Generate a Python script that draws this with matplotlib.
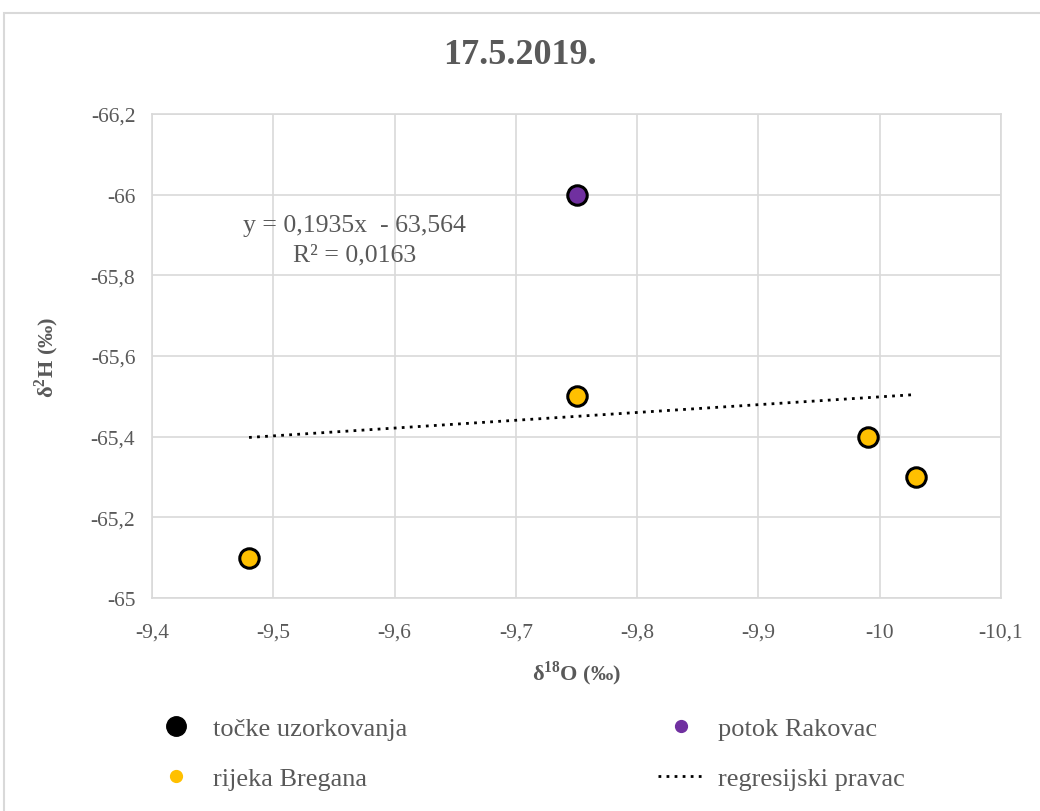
import numpy as np
from matplotlib import pyplot as plt
from matplotlib.lines import Line2D
from matplotlib.patches import Rectangle
from matplotlib.ticker import FuncFormatter, MultipleLocator

# Data
d18O_bregana = [-9.48, -9.75, -9.99, -10.03]
d2H_bregana = [-65.1, -65.5, -65.4, -65.3]
d18O_rakovac = [-9.75]
d2H_rakovac = [-66.0]
eq_text = "y = 0,1935x  - 63,564\nR² = 0,0163"

title = "17.5.2019."
gray = "#595959"
grid_c = "#d9d9d9"

plt.rcParams['font.family'] = ['Liberation Serif', 'DejaVu Serif']
plt.rcParams['mathtext.fontset'] = 'custom'
plt.rcParams['mathtext.rm'] = 'Liberation Serif'
plt.rcParams['mathtext.bf'] = 'Liberation Serif:bold'

fig = plt.figure(figsize=(10.4, 8.12), dpi=100)
fig.patches.append(Rectangle((4/1040, -0.05), 1.1, 0.05 + 1 - 14/812,
                             transform=fig.transFigure, fill=False,
                             edgecolor=grid_c, lw=1.5))
ax = fig.add_axes([152/1040, 1 - 599/812, 849/1040, 484/812])

# regression line over all points
all_x = np.array(d18O_bregana + d18O_rakovac)
all_y = np.array(d2H_bregana + d2H_rakovac)
k, n = np.polyfit(all_x, all_y, 1)
xs = np.array([all_x.max(), all_x.min()])
dots = (0, (1, 1.9))
ax.plot(xs, k*xs + n, color='black', lw=2, linestyle=dots, zorder=3)

ax.plot(d18O_bregana, d2H_bregana, 'o', ms=14, mfc='#FFC000', mec='black', mew=2.2, zorder=4)
ax.plot(d18O_rakovac, d2H_rakovac, 'o', ms=14, mfc='#7030A0', mec='black', mew=2.2, zorder=4)

ax.set_xlim(-9.4, -10.1)
ax.set_ylim(-65, -66.2)
ax.xaxis.set_major_locator(MultipleLocator(0.1))
ax.yaxis.set_major_locator(MultipleLocator(0.2))
fmt = FuncFormatter(lambda v, p: ('%g' % round(v, 2)).replace('.', ','))
ax.xaxis.set_major_formatter(fmt)
ax.yaxis.set_major_formatter(fmt)
ax.tick_params(length=0, labelsize=15.5, labelcolor=gray)
ax.tick_params(axis='y', pad=12)
ax.tick_params(axis='x', pad=18)
ax.grid(True, color=grid_c, lw=1.2)
ax.set_axisbelow(True)
for s in ax.spines.values():
    s.set_color(grid_c)
    s.set_linewidth(1.2)

ax.text(0.239, 0.74, eq_text, transform=ax.transAxes, ha='center', va='center',
        multialignment='center', fontsize=18.5, color=gray, linespacing=1.4)

ax.set_xlabel("δ$^{\\mathbf{18}}$O (‰)", fontsize=16, fontweight='bold', color=gray, labelpad=12)
ax.set_ylabel("δ$^{\\mathbf{2}}$H (‰)", fontsize=16, fontweight='bold', color=gray, labelpad=21)
fig.text(0.5, 1 - 55/812, title, ha='center', va='center', fontsize=26,
         fontweight='bold', color=gray)

handles = [
    Line2D([], [], marker='o', ls='', color='black', ms=14),
    Line2D([], [], marker='o', ls='', color='#FFC000', ms=8.5),
    Line2D([], [], marker='o', ls='', color='#7030A0', ms=8.5),
    Line2D([], [], color='black', lw=2, ls=dots),
]
labels = ["točke uzorkovanja", "rijeka Bregana", "potok Rakovac", "regresijski pravac"]
fig.legend(handles, labels, ncol=2, loc='upper left',
           bbox_to_anchor=(152/1040, 1 - 718/812), frameon=False,
           fontsize=19, labelcolor=gray, handlelength=1.8, handletextpad=0.5,
           columnspacing=9.5, labelspacing=1.0, borderpad=0, borderaxespad=0)

fig.savefig("out.png", dpi=100)
